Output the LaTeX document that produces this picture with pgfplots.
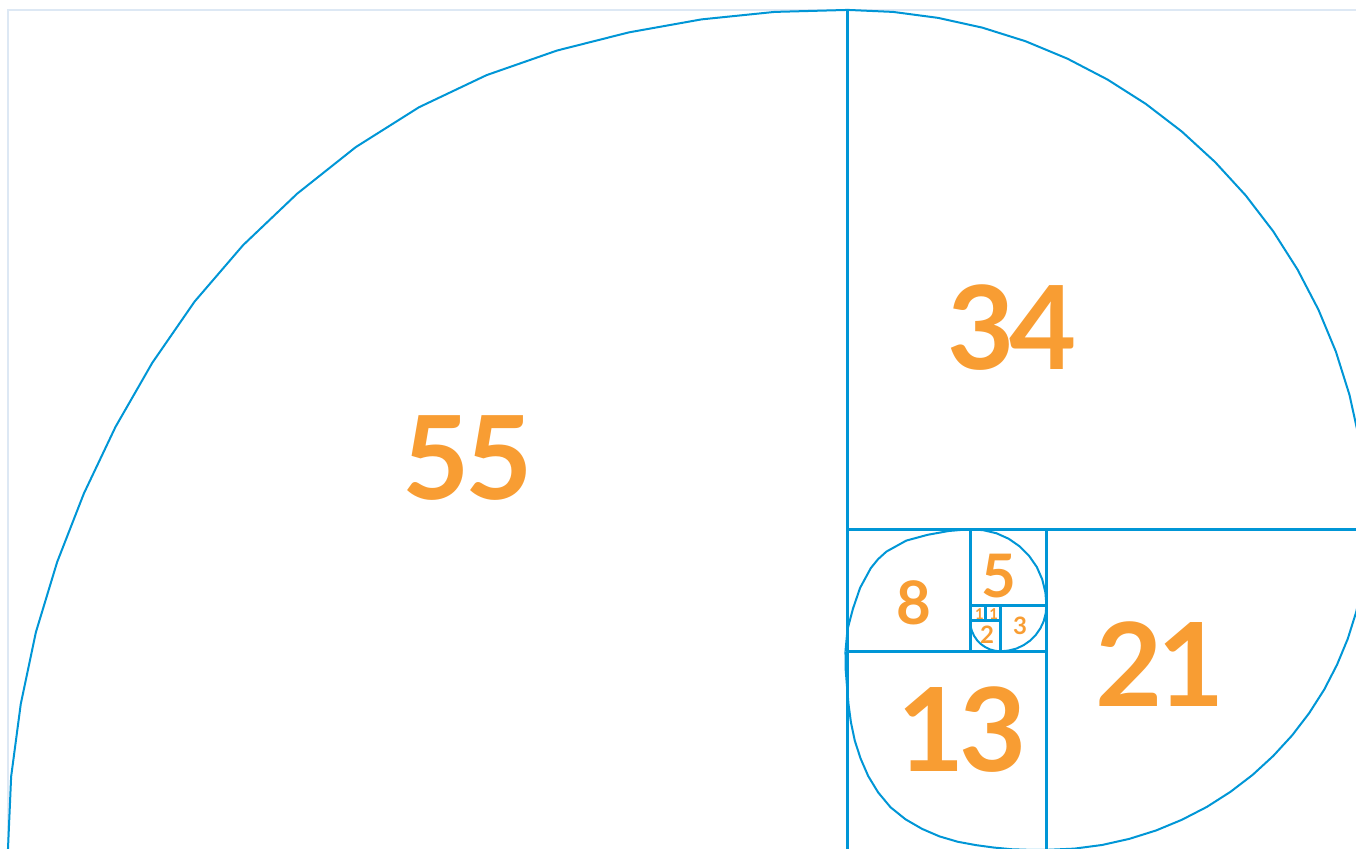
\documentclass[border=0pt]{standalone}
\usepackage{pgfplots}
\pgfplotsset{compat=1.18}
\usepackage{fontspec}
\setmainfont{Lato}
\definecolor{fibblue}{HTML}{0096D6}
\definecolor{fiborange}{HTML}{F89D33}
\definecolor{framecol}{HTML}{DDE8F4}
\begin{document}
\begin{tikzpicture}
\begin{axis}[
  scale only axis, width=678pt, height=424pt,
  xmin=-0.52, xmax=88.27, ymin=0.12, ymax=55.65,
  axis line style={draw=none}, xtick=\empty, ytick=\empty, clip=true,
  arc/.style={fibblue, line width=1pt, line join=round},
  sq/.style={fibblue, line width=1.5pt},
]
% light frame
\addplot[framecol, line width=0.75pt] coordinates {(0,0) (0,55) (89,55)};
% square edges
\addplot[sq] coordinates {(55,0) (55,55)};
\addplot[sq] coordinates {(55,21) (89,21)};
\addplot[sq] coordinates {(68,0) (68,21)};
\addplot[sq] coordinates {(55,13) (68,13)};
\addplot[sq] coordinates {(63,13) (63,21)};
\addplot[sq] coordinates {(63,16) (68,16)};
\addplot[sq] coordinates {(65,13) (65,16)};
\addplot[sq] coordinates {(63,15) (65,15)};
\addplot[sq] coordinates {(64,15) (64,16)};
% spiral
\addplot[arc] coordinates {(0,0) (0.21,4.80) (0.84,9.55) (1.83,14.25) (3.22,18.84) (4.97,23.33) (7.04,27.69) (9.45,31.89) (12.22,35.90) (15.40,39.60) (18.94,42.97) (22.78,46.02) (26.92,48.63) (31.34,50.73) (35.95,52.34) (40.66,53.53) (45.41,54.38) (50.20,54.87) (55,55)};
\addplot[arc] coordinates {(55,55) (57.96,54.87) (60.90,54.48) (63.80,53.84) (66.63,52.95) (69.37,51.81) (72,50.44) (74.50,48.85) (76.86,47.04) (79.04,45.04) (81.04,42.86) (82.85,40.50) (84.44,38) (85.81,35.37) (86.95,32.63) (87.84,29.80) (88.48,26.90) (88.87,23.96) (89,21)};
\addplot[arc] coordinates {(89,21) (88.92,19.17) (88.68,17.35) (88.28,15.57) (87.73,13.82) (87.03,12.13) (86.19,10.5) (85.20,8.95) (84.09,7.50) (82.85,6.15) (81.50,4.91) (80.05,3.80) (78.5,2.81) (76.87,1.97) (75.18,1.27) (73.43,0.72) (71.65,0.32) (69.83,0.08) (68,0)};
\addplot[arc] coordinates {(54.84,13) (54.85,11.85) (54.94,10.70) (55.04,9.53) (55.20,8.34) (55.45,7.15) (55.83,5.98) (56.33,4.83) (56.98,3.76) (57.79,2.79) (58.77,2.00) (59.86,1.37) (61.0,0.88) (62.19,0.53) (63.38,0.31) (64.56,0.15) (65.72,0.04) (66.86,0) (68,0)};
\addplot[arc] coordinates {(54.84,13) (54.97,14.42) (55.33,15.79) (55.80,17.16) (56.50,18.45) (56.97,19.03) (57.52,19.53) (58.82,20.25) (60.22,20.63) (61.61,20.88) (63,21)};
\addplot[arc] coordinates {(63,21) (63.87,20.93) (64.73,20.73) (65.53,20.37) (66.25,19.87) (66.87,19.24) (67.37,18.52) (67.72,17.72) (67.93,16.87) (68,16)};
\addplot[arc] coordinates {(68,16) (67.95,15.48) (67.82,14.97) (67.60,14.5) (67.30,14.07) (66.93,13.70) (66.5,13.40) (66.03,13.18) (65.52,13.05) (65,13)};
\addplot[arc] coordinates {(65,13) (64.65,13.03) (64.32,13.12) (64,13.27) (63.71,13.47) (63.47,13.71) (63.27,14) (63.12,14.32) (63.03,14.65) (63,15)};
% labels
\addplot[draw=none, mark=none, nodes near coords, point meta=explicit symbolic,
  every node near coord/.append style={anchor=center, inner sep=0pt, text=fiborange, font=\fontsize{58}{58}\selectfont\bfseries\addfontfeatures{LetterSpace=-4}}]
  table[x=x, y=y, meta=l] {
x y l
30.12 25.66 55
65.75 34.17 34
75.44 12.17 21
62.48 7.85 13
};
\addplot[draw=none, mark=none, nodes near coords, point meta=explicit symbolic,
  every node near coord/.append style={anchor=center, inner sep=0pt, text=fiborange, font=\fontsize{30}{30}\selectfont\bfseries}]
  table[x=x, y=y, meta=l] {
x y l
59.33 16.17 8
64.90 17.93 5
};
\addplot[draw=none, mark=none, nodes near coords, point meta=explicit symbolic,
  every node near coord/.append style={anchor=center, inner sep=0pt, text=fiborange, font=\fontsize{12}{12}\selectfont\bfseries}]
  table[x=x, y=y, meta=l] {
x y l
66.27 14.66 3
64.11 14.07 2
};
\addplot[draw=none, mark=none, nodes near coords, point meta=explicit symbolic,
  every node near coord/.append style={anchor=center, inner sep=0pt, text=fiborange, font=\fontsize{7.5}{7.5}\selectfont\bfseries}]
  table[x=x, y=y, meta=l] {
x y l
63.62 15.47 1
64.55 15.47 1
};
\end{axis}
\end{tikzpicture}
\end{document}
